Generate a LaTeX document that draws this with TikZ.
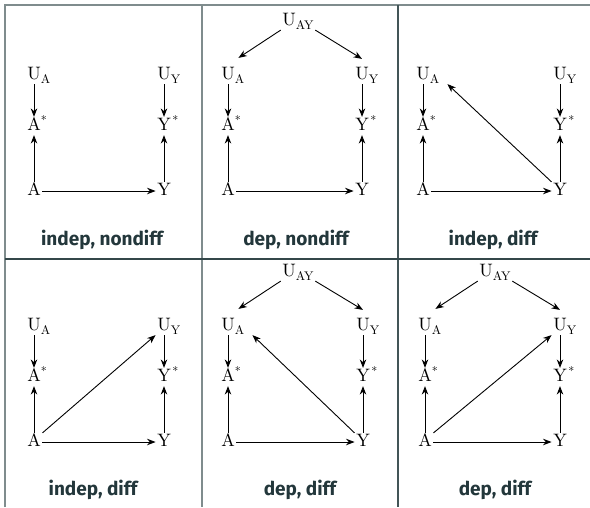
\documentclass[tikz,border=0pt]{standalone}
\usepackage{fontspec}
\newfontfamily\labfont{Fira Sans}
\newfontfamily\nodefont{lmroman10-regular}[Extension=.otf]
\usetikzlibrary{arrows.meta,calc}
\definecolor{mteal}{HTML}{23373B}
\definecolor{rulegray}{HTML}{7F8C8D}
\definecolor{ruledark}{HTML}{34474A}
\newcommand\subtx[1]{\raisebox{-3.6pt}{\fontsize{12.5}{12.5}\selectfont #1}}
\newcommand\suptx{\raisebox{6.5pt}{\fontsize{12}{12}\selectfont *}}
\tikzset{
  v/.style={inner sep=1.5pt, font=\nodefont\fontsize{18}{18}\selectfont, text height=12.3pt, text depth=2.5pt},
  arr/.style={-{Stealth[length=8.5pt,width=6.5pt]}, line width=0.9pt, black},
  lab/.style={anchor=base, text=mteal, font=\labfont\bfseries\fontsize{19}{23}\selectfont},
  rule/.style={line width=1.1pt, rulegray}
}
\newcommand\dagbase[4]{%
  \node[v] (#1ua) at (#2,#4) {U\rlap{\subtx{A}}};
  \node[v] (#1as) at (#2,#4+51) {A\rlap{\suptx}};
  \node[v] (#1a) at (#2,#4+116) {A};
  \node[v] (#1uy) at (#3,#4) {U\rlap{\subtx{Y}}};
  \node[v] (#1ys) at (#3,#4+51) {Y\rlap{\kern1.5pt\suptx}};
  \node[v] (#1y) at (#3,#4+116) {Y};
  \draw[arr] (#1ua) -- (#1as);
  \draw[arr] (#1a) -- (#1as);
  \draw[arr] (#1uy) -- (#1ys);
  \draw[arr] (#1y) -- (#1ys);
  \draw[arr] (#1a) -- (#1y);
}
\begin{document}
\begin{tikzpicture}[x=1pt,y=-1pt]
\useasboundingbox[fill=white] (0,0) rectangle (590,507);
% table rules
\draw[rule] (5,507) -- (5,5) -- (590,5);
\draw[rule] (202,5) -- (202,507);
\draw[rule, ruledark!80!rulegray] (398,5) -- (398,507);
\draw[line width=1.1pt, ruledark] (5,259) -- (590,259);
% panel 1
\dagbase{p1}{34}{164}{75}
\node[lab] (l1) at (102,245) {indep, nondiff};
% panel 2
\dagbase{p2}{228}{362}{75}
\node[v] (p2uay) at (298,21) {U\subtx{AY}};
\draw[arr] (p2uay.south west) -- ([shift={(2pt,8pt)}]p2ua.north east);
\draw[arr] (p2uay.south east) -- ([yshift=7pt]p2uy.north);
\node[lab] (l2) at (296,245) {dep, nondiff};
% panel 3
\dagbase{p3}{423}{560}{75}
\draw[arr] (p3y.north west) -- ([xshift=16pt]p3ua.south east);
\node[lab] (l3) at (493,245) {indep, diff};
% panel 4
\dagbase{p4}{34}{164}{326}
\draw[arr] (p4a.north east) -- (p4uy.south west);
\node[lab] (l4) at (93,495) {indep, diff};
% panel 5
\dagbase{p5}{228}{363}{326}
\node[v] (p5uay) at (298,272) {U\subtx{AY}};
\draw[arr] (p5uay.south west) -- ([shift={(2pt,8pt)}]p5ua.north east);
\draw[arr] (p5uay.south east) -- ([yshift=7pt]p5uy.north);
\draw[arr] (p5y.north west) -- ([xshift=16pt]p5ua.south east);
\node[lab] (l5) at (300,495) {dep, diff};
% panel 6
\dagbase{p6}{425}{560}{326}
\node[v] (p6uay) at (495,272) {U\subtx{AY}};
\draw[arr] (p6uay.south west) -- ([shift={(2pt,8pt)}]p6ua.north east);
\draw[arr] (p6uay.south east) -- ([yshift=7pt]p6uy.north);
\draw[arr] (p6a.north east) -- (p6uy.south west);
\node[lab] (l6) at (495,495) {dep, diff};
\end{tikzpicture}
\end{document}
